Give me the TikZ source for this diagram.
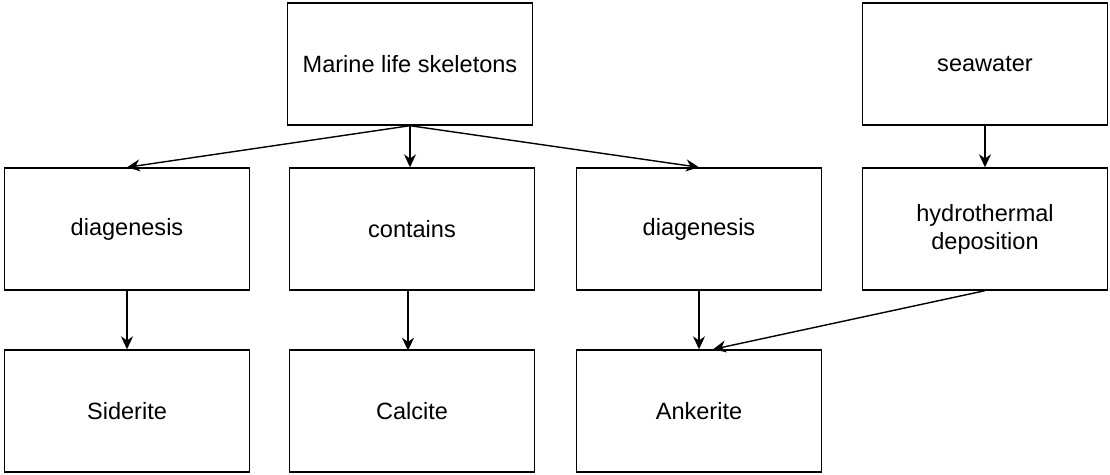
\documentclass[tikz,border=0pt]{standalone}
\usepackage{fontspec}
\setmainfont{Liberation Sans}
\usetikzlibrary{arrows.meta, positioning}
\tikzset{
    stepbox/.style={rectangle, draw, thick, minimum width=4.9cm, minimum height=2.44cm, align=center, font=\fontsize{13.4}{16}\selectfont},
    flow/.style={draw, thick, -{Stealth[length=2.6mm, width=2.4mm]}},
}

\begin{document}
\begin{tikzpicture}[x=0.02cm, y=-0.02cm]
    \useasboundingbox (0,0) rectangle (1110,475);
    \node[stepbox] (marine) at (410,64) {Marine life skeletons};
    \node[stepbox] (sea) at (985,64) {seawater};
    \node[stepbox] (diag1) at (127,229) {diagenesis};
    \node[stepbox] (contains) at (412,229) {contains};
    \node[stepbox] (diag2) at (699,229) {diagenesis};
    \node[stepbox] (hydro) at (985,229) {hydrothermal\\deposition};
    \node[stepbox] (siderite) at (127,411) {Siderite};
    \node[stepbox] (calcite) at (412,411) {Calcite};
    \node[stepbox] (ankerite) at (699,411) {Ankerite};
    % arrows
    \draw[flow] (marine.south) -- (diag1.north);
    \draw[flow] (marine.south) -- (contains.north -| marine.south);
    \draw[flow] (marine.south) -- (diag2.north);
    \draw[flow] (sea) -- (hydro);
    \draw[flow] (diag1) -- (siderite);
    \draw[flow] (contains.south -| calcite.north) ++(-4,0) -- ++(0,60);
    \draw[flow] (diag2) -- (ankerite);
    \draw[flow] (hydro.south) -- ([xshift=8]ankerite.north);
\end{tikzpicture}
\end{document}
